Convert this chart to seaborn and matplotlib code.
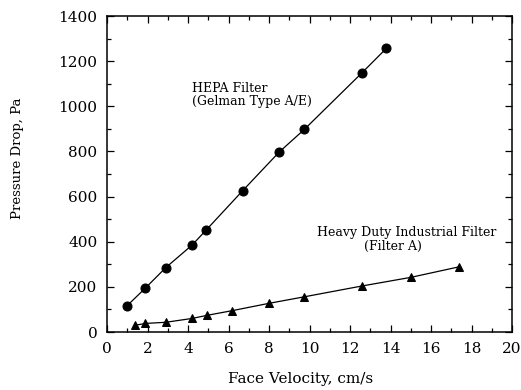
import matplotlib
matplotlib.use("Agg")
import matplotlib.pyplot as plt
from matplotlib.ticker import MultipleLocator
import pandas as pd
import seaborn as sns

# HEPA filter (Gelman Type A/E)
hepa_velocity = [1.0, 1.9, 2.9, 4.2, 4.9, 6.7, 8.5, 9.75, 12.6, 13.8]
hepa_pressure = [117, 195, 285, 385, 452, 626, 797, 898, 1149, 1257]

# Heavy duty industrial filter (Filter A)
ind_velocity = [1.4, 1.9, 2.9, 4.2, 4.95, 6.15, 8.0, 9.75, 12.6, 15.0, 17.4]
ind_pressure = [30, 38, 43, 60, 74, 94, 127, 156, 204, 242, 289]

sns.set_theme(style="ticks")
plt.rcParams["font.family"] = ["DejaVu Serif"]
plt.rcParams["text.color"] = "black"
plt.rcParams["axes.labelcolor"] = "black"

hepa = pd.DataFrame({"v": hepa_velocity, "p": hepa_pressure})
ind = pd.DataFrame({"v": ind_velocity, "p": ind_pressure})

fig = plt.figure(figsize=(5.21, 3.90), dpi=100)
ax = fig.add_axes([107 / 521, 1 - 332 / 390, (512 - 107) / 521, (332 - 16) / 390])

sns.lineplot(data=hepa, x="v", y="p", ax=ax, color="black", linewidth=0.9,
             marker="o", markersize=6.5, markeredgecolor="black", sort=False)
sns.lineplot(data=ind, x="v", y="p", ax=ax, color="black", linewidth=0.9,
             marker="^", markersize=5.5, markeredgecolor="black", sort=False)

ax.set_xlim(0, 20)
ax.set_ylim(0, 1400)
ax.xaxis.set_major_locator(MultipleLocator(2))
ax.xaxis.set_minor_locator(MultipleLocator(1))
ax.yaxis.set_major_locator(MultipleLocator(200))
ax.yaxis.set_minor_locator(MultipleLocator(100))
ax.tick_params(which="both", direction="in", top=True, right=True, colors="black",
               labelsize=11, width=0.9)
ax.tick_params(which="major", length=5, pad=7)
ax.tick_params(which="minor", length=3)
for s in ax.spines.values():
    s.set_color("black")
    s.set_linewidth(1.1)

ax.set_xlabel("Face Velocity, cm/s", fontsize=11)
ax.set_ylabel("Pressure Drop, Pa", fontsize=9.5)
ax.xaxis.set_label_coords(0.477, -0.125)
ax.yaxis.set_label_coords(-0.205, 0.55)

ax.text(4.2, 1081, "HEPA Filter", fontsize=9, va="center", ha="left")
ax.text(4.2, 1020, "(Gelman Type A/E)", fontsize=9, va="center", ha="left")
ax.text(10.35, 439, "Heavy Duty Industrial Filter", fontsize=9, va="center", ha="left")
ax.text(14.1, 377, "(Filter A)", fontsize=9, va="center", ha="center")

fig.savefig("out.png", dpi=100)
